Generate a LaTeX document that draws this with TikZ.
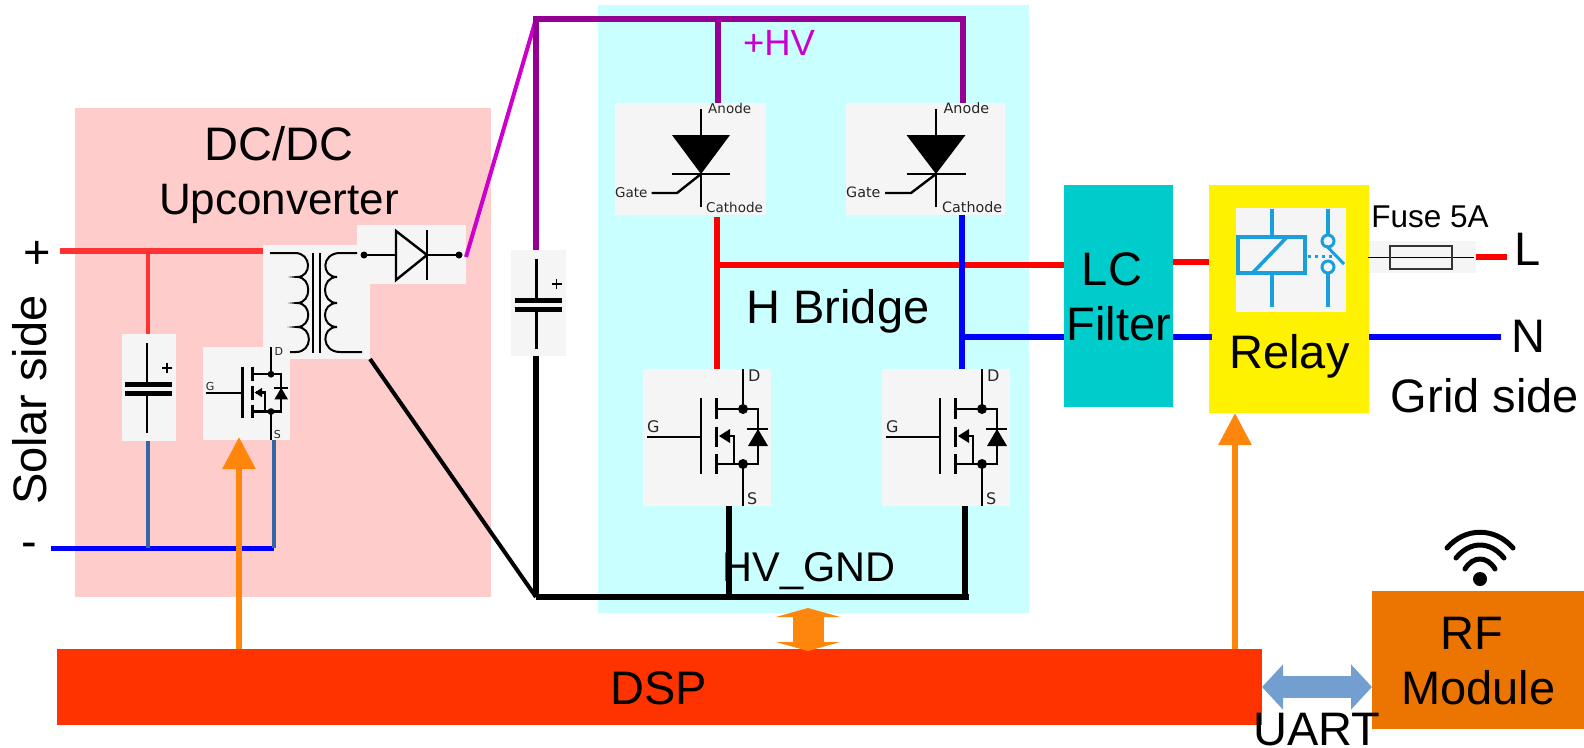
\documentclass[tikz,border=0pt]{standalone}
\usepackage{fontspec}
\setmainfont{Liberation Sans}
\newfontfamily\symfont{DejaVu Sans}
\usetikzlibrary{arrows.meta,calc}
\definecolor{pinkbg}{HTML}{FFCCCC}
\definecolor{cyanbg}{HTML}{CAFFFF}
\definecolor{iconbg}{HTML}{F5F5F5}
\definecolor{tealbox}{HTML}{00CCCC}
\definecolor{dspred}{HTML}{FF3300}
\definecolor{rforange}{HTML}{EB7500}
\definecolor{arrorange}{HTML}{FF860D}
\definecolor{uartblue}{HTML}{729FCF}
\definecolor{hvpurple}{HTML}{940094}
\definecolor{hvmag}{HTML}{CC00CC}
\definecolor{solarred}{HTML}{FF3333}
\definecolor{steel}{HTML}{3465A4}
\definecolor{relayblue}{HTML}{1B9FDC}
\newcommand{\fs}[1]{\fontsize{#1}{#1}\selectfont}
\newcommand{\blk}[6]{\node[anchor=north west,inner sep=0pt,outer sep=0pt,minimum width={(#5-#3)*1pt},minimum height={(#6-#4)*1pt},fill=#2] (#1) at (#3,#4) {};}
\tikzset{
  lbl/.style={inner sep=0pt,outer sep=0pt,anchor=base,text=black,font=\fs{47}},
  sym/.style={line width=2.4pt,black},
  symtxt/.style={inner sep=0pt,anchor=base west,text=black!85},
  wire/.style={line width=6pt},
  ctrl/.style={line width=6pt,arrorange,-{Triangle[length=32pt,width=32pt]}},
  relsym/.style={line width=3.6pt,relayblue},
}
% polar capacitor symbol, origin at the top left of its grey box
\newcommand{\capsym}[2]{\begin{scope}[shift={(#1,#2)}]
  \draw[sym] (25,9) -- (25,50);
  \draw[sym] (25,59) -- (25,99);
  \draw[line width=5pt] (3,50) -- (50,50);
  \draw[line width=5pt] (3,59) -- (50,59);
  \draw[line width=1.6pt] (40,34) -- (50,34) (45,29) -- (45,39);
\end{scope}}
% MOSFET symbol drawn in the 128x137 frame of the large icons
\newcommand{\fetsym}[4]{\begin{scope}[shift={(#1,#2)},scale=#3]
  \draw[sym] (100,0) -- (100,40) (100,95) -- (100,137);
  \draw[sym] (4,68) -- (58,68) (58,29) -- (58,105);
  \draw[sym,line width=3pt] (73,29) -- (73,50) (73,58) -- (73,78) (73,85) -- (73,105);
  \draw[sym] (73,40) -- (115,40) -- (115,95) -- (73,95);
  \draw[sym] (91,95) -- (91,67) -- (78,67);
  \fill (100,40) circle (5) (100,95) circle (5);
  \fill (76,67) -- (87,60) -- (87,74) -- cycle;
  \fill (115,60) -- (105,77) -- (125,77) -- cycle;
  \draw[sym] (104,60) -- (125,60);
  \node[symtxt,font=\symfont\fs{#4}] at (4,63.7) {G};
  \node[symtxt,font=\symfont\fs{#4}] at (105,12.7) {D};
  \node[symtxt,font=\symfont\fs{#4}] at (104,135) {S};
\end{scope}}
% thyristor symbol; #1 centre x, #2 half-width, #3 gate knee x, #4 gate end x
\newcommand{\thysym}[4]{
  \draw[sym] (#1,109) -- (#1,136) (#1,174) -- (#1,207);
  \fill (#1-#2,135) -- (#1+#2,135) -- (#1,174) -- cycle;
  \draw[sym] (#1-#2,174) -- (#1+#2,174);
  \draw[sym] (#1,174) -- (#3,193) -- (#4,193);
}
\begin{document}
\begin{tikzpicture}[x=1pt,y=-1pt]
\useasboundingbox (0,0) rectangle (1584,747);
% background regions
\blk{dcdc}{pinkbg}{75}{108}{491}{597}
\blk{hbridge}{cyanbg}{598}{5}{1029}{613}
% wires below the icons
\coordinate (plusend) at (60,251);
\coordinate (minusend) at (51,548);
\coordinate (capx) at (148,251);
\coordinate (mosx) at (274,548);
\coordinate (hvcorner) at (536,19);
\coordinate (hvright) at (963,19);
\coordinate (hvmid) at (718,19);
\coordinate (gndcorner) at (536,597);
\coordinate (gndright) at (969,597);
\blk{sw}{iconbg}{203}{347}{290}{440}
\blk{xfmr}{iconbg}{263}{245}{370}{359}
\blk{dio}{iconbg}{357}{225}{466}{284}
\blk{cone}{iconbg}{122}{334}{176}{441}
\blk{cbus}{iconbg}{511}{250}{566}{356}
\blk{thya}{iconbg}{615}{103}{766}{215}
\blk{thyb}{iconbg}{846}{103}{1005}{215}
\blk{fa}{iconbg}{643}{369}{771}{506}
\blk{fb}{iconbg}{882}{369}{1010}{506}
\blk{lc}{tealbox}{1064}{185}{1173}{407}
\blk{relay}{yellow}{1209}{185}{1369}{413}
\blk{relicon}{iconbg}{1236}{208}{1346}{312}
\blk{fuse}{iconbg}{1369}{241}{1476}{273}
\blk{dsp}{dspred}{57}{649}{1262}{725}
\blk{rf}{rforange}{1372}{591}{1584}{729}
% DC input
\draw[wire,solarred] (plusend) -- (xfmr.west |- plusend);
\draw[line width=3.5pt,solarred] (capx) -- (capx |- cone.north);
\draw[wire,line width=5pt,blue] (minusend) -- (mosx);
\draw[line width=3.5pt,steel] (capx |- cone.south) -- (capx |- minusend);
\draw[line width=3.5pt,steel] (mosx |- sw.south) -- (mosx);
% HV rail
\draw[line width=4pt,hvmag] (dio.east |- 0,257) -- (hvcorner);
\draw[wire,hvpurple,line cap=rect] (hvcorner) -- (hvright);
\draw[wire,hvpurple] (hvcorner) -- (hvcorner |- cbus.north);
\draw[wire,hvpurple] (hvmid) -- (hvmid |- thya.north);
\draw[wire,hvpurple] (hvright) -- (hvright |- thyb.north);
% GND rail
\draw[line width=4pt] (xfmr.south east) -- (gndcorner);
\draw[wire] (gndcorner |- cbus.south) -- (gndcorner);
\draw[wire] (gndcorner) -- (gndright);
\draw[wire] (729,506) -- (729,597);
\draw[wire] (965,506) -- (965,597);
% H bridge midpoints
\draw[wire,red] (717,217) -- (717,369);
\draw[wire,red] (717,265) -- (lc.west |- 0,265);
\draw[wire,blue] (962,215) -- (962,369);
\draw[wire,blue] (962,337) -- (lc.west |- 0,337);
\draw[wire,red] (lc.east |- 0,262) -- (relay.west |- 0,262);
\draw[wire,blue] (lc.east |- 0,337) -- (1212,337);
\draw[wire,blue] (relay.east |- 0,337) -- (1501,337);
\draw[wire,red] (fuse.east |- 0,257) -- (1507,257);
% control arrows
\draw[ctrl] (239,649) -- (239,437);
\draw[ctrl] (1235,649) -- (1235,413);
\draw[line width=31pt,arrorange,{Triangle[length=9pt,width=64pt]}-{Triangle[length=9pt,width=64pt]}] (808,608) -- (808,651);
\draw[line width=22pt,uartblue,{Triangle[length=21pt,width=44pt]}-{Triangle[length=21pt,width=44pt]}] (dsp.east |- 0,687) -- (rf.west |- 0,687);
% transformer
\draw[sym,line width=2pt] (270,253) -- (295,253) .. controls (312,253) and (312,277) .. (297,277)
  .. controls (312,277) and (312,303) .. (297,303)
  .. controls (312,303) and (312,327) .. (297,327)
  .. controls (313,327) and (313,352) .. (296,352) -- (290,352);
\draw[sym,line width=2pt] (357,253) -- (340,253) .. controls (321,253) and (321,277) .. (337,277)
  .. controls (321,277) and (321,303) .. (337,303)
  .. controls (321,303) and (321,327) .. (337,327)
  .. controls (321,327) and (321,352) .. (340,352) -- (362,352);
\draw[sym,line width=2pt] (312.7,253) -- (312.7,353) (320,253) -- (320,353);
% output diode
\draw[sym] (364,255) -- (396,255) (427,255) -- (459,255);
\draw[sym] (396,231) -- (396,280) -- (427,255) -- cycle;
\draw[sym] (427,230) -- (427,280);
\fill (364,255) circle (3.5) (459,255) circle (3.5);
% capacitors and transistors
\capsym{122}{334}
\capsym{511.5}{250}
\fetsym{203}{347}{0.68}{11}
\fetsym{643}{369}{1}{16}
\fetsym{882}{369}{1}{16}
% thyristors
\thysym{701}{29}{677}{651.5}
\thysym{936}{29.5}{911}{885}
\node[symtxt,font=\symfont\fs{13.5}] (ta) at (708,113.5) {Anode};
\node[symtxt,font=\symfont\fs{13.5}] (tg) at (615,197.5) {Gate};
\node[symtxt,font=\symfont\fs{13.5}] (tc) at (706,212.5) {Cathode};
\node[symtxt,font=\symfont\fs{14.3}] (tb) at (943.5,113.5) {Anode};
\node[symtxt,font=\symfont\fs{14.3}] (th) at (846,197.5) {Gate};
\node[symtxt,font=\symfont\fs{14.3}] (td) at (942,212.5) {Cathode};
% relay symbol
\draw[relsym] (1238,237) rectangle (1305,273);
\draw[relsym] (1272,209) -- (1272,237) (1272,273) -- (1272,307);
\draw[relsym] (1253.5,272) -- (1287,237);
\draw[relsym] (1328,209) -- (1328,235) (1328,273) -- (1328,307);
\draw[line width=3pt,relayblue] (1328,241) circle (6) (1328,267) circle (6);
\draw[relsym,line width=3pt] (1326.5,246) -- (1344,264);
\draw[line width=3pt,relayblue,dash pattern=on 3pt off 4pt] (1308,256) -- (1335,256);
% fuse symbol
\draw[line width=1pt] (1368,257) -- (1474,257);
\draw[line width=1.3pt,black!80] (1390,246) rectangle (1452,269);
% wifi symbol
\fill (1480,579) circle (7);
\draw[line width=5pt,line cap=round] (1447,548) .. controls (1465,527) and (1495,527) .. (1513,548);
\draw[line width=5pt,line cap=round] (1456,558) .. controls (1470,540.7) and (1490,540.7) .. (1504,558);
\draw[line width=5pt,line cap=round] (1465,569) .. controls (1473,555.7) and (1487,555.7) .. (1495,569);
% labels
\node[lbl] (t1) at (279,160) {DC/DC};
\node[lbl,font=\fs{44}] (t2) at (279,214) {Upconverter};
\node[lbl,rotate=90] (t3) at (46,400) {Solar side};
\node[lbl] (t4) at (37,268) {+};
\node[lbl] (t5) at (29,557) {-};
\node[lbl,font=\fs{36.5},text=hvmag] (t6) at (779,55) {+HV};
\node[lbl] (t7) at (838,323) {H Bridge};
\node[lbl,font=\fs{41.5}] (t8) at (809,581) {HV\_GND};
\node[lbl] (t9) at (1112,285) {LC};
\node[lbl] (t10) at (1119,340) {Filter};
\node[lbl] (t11) at (1289.5,368) {Relay};
\node[lbl,font=\fs{31.5}] (t12) at (1430,227) {Fuse 5A};
\node[lbl] (t13) at (1528,265) {L};
\node[lbl] (t14) at (1528,352) {N};
\node[lbl] (t15) at (1485,412) {Grid side};
\node[lbl] (t16) at (659,704) {DSP};
\node[lbl] (t17) at (1317,745) {UART};
\node[lbl] (t18) at (1472,649) {RF};
\node[lbl] (t19) at (1478.5,704) {Module};
\end{tikzpicture}
\end{document}
